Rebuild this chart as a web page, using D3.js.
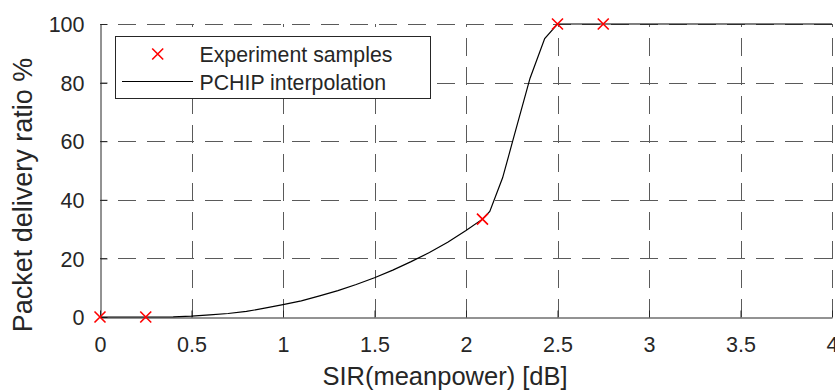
<!DOCTYPE html>
<html>
<head>
<meta charset="utf-8">
<script src="https://cdn.jsdelivr.net/npm/d3@7"></script>
<style>
  body { margin: 0; background: #fff; }
  text { font-family: "Liberation Sans", Arial, Helvetica, sans-serif; fill: #262626; }
</style>
</head>
<body>
<svg width="835" height="390"></svg>
<script>
// measured samples
var sampleX = [0, 0.25, 2.09, 2.5, 2.75];
var sampleY = [0, 0, 33.4, 100, 100];

// interpolated curve
var curveX = [0, 0.25, 0.3, 0.4, 0.5, 0.6, 0.7, 0.8, 0.9, 1.0, 1.1, 1.2, 1.3, 1.4, 1.5,
              1.6, 1.7, 1.8, 1.9, 2.0, 2.09, 2.13, 2.2, 2.255, 2.35, 2.43, 2.5, 4];
var curveY = [0, 0, 0, 0.05, 0.3, 0.7, 1.2, 1.9, 3.0, 4.2, 5.5, 7.2, 9.0, 11.1, 13.4,
              16.0, 18.9, 22.0, 25.5, 29.5, 33.4, 36.0, 47.5, 60, 81.5, 95, 100, 100];

var xTicks = [0, 0.5, 1, 1.5, 2, 2.5, 3, 3.5, 4];
var yTicks = [0, 20, 40, 60, 80, 100];

var legendLabels = ["Experiment samples", "PCHIP interpolation"];

var svg = d3.select("svg");
var pLeft = 100, pRight = 832, pTop = 24, pBottom = 317;
var axisColor = "#262626";

var x = d3.scaleLinear().domain([0, 4]).range([pLeft, pRight]);
var y = d3.scaleLinear().domain([0, 100]).range([pBottom, pTop]);

// grid
var grid = svg.append("g").attr("class", "grid")
    .attr("stroke", "#5a5a5a").attr("stroke-width", 1)
    .attr("stroke-dasharray", "18,11").attr("fill", "none");

xTicks.forEach(function(t) {
    if (t === 0) return;
    var px = Math.round(x(t)) + 0.5;
    grid.append("path").attr("d", "M" + px + "," + pBottom + "V" + pTop);
});
yTicks.forEach(function(t) {
    if (t === 0) return;
    var py = Math.round(y(t)) + 0.5;
    grid.append("path").attr("d", "M" + pRight + "," + py + "H" + pLeft);
});

// axes (MATLAB style, ticks inside)
var xAxis = d3.axisBottom(x).tickValues(xTicks).tickSizeInner(-7).tickSizeOuter(0)
    .tickPadding(20).tickFormat(d3.format("~g"));
var yAxis = d3.axisLeft(y).tickValues(yTicks).tickSizeInner(-7).tickSizeOuter(0)
    .tickPadding(16).tickFormat(d3.format("~g"));

var gx = svg.append("g").attr("transform", "translate(0," + (pBottom + 0.5) + ")").call(xAxis);
var gy = svg.append("g").attr("transform", "translate(" + (pLeft + 0.5) + ",0)").call(yAxis);

[gx, gy].forEach(function(g) {
    g.select(".domain").attr("stroke", axisColor);
    g.selectAll(".tick line").attr("stroke", axisColor);
    g.selectAll(".tick text").attr("fill", axisColor)
        .style("font-size", "21.5px").attr("font-family", null);
});
gx.selectAll(".tick text").attr("dy", null).attr("y", 34.5);
gy.selectAll(".tick text").attr("dy", "0.36em");

// curve
var line = d3.line()
    .x(function(d) { return x(d[0]); })
    .y(function(d) { return y(d[1]); });
var curve = curveX.map(function(v, i) { return [v, curveY[i]]; });
svg.append("path").datum(curve)
    .attr("d", line)
    .attr("fill", "none")
    .attr("stroke", "#000")
    .attr("stroke-width", 1.2);

// markers
function cross(g, cx, cy, r) {
    g.append("path")
        .attr("d", "M" + (cx - r) + "," + (cy - r) + "L" + (cx + r) + "," + (cy + r) +
                   "M" + (cx - r) + "," + (cy + r) + "L" + (cx + r) + "," + (cy - r))
        .attr("stroke", "#ff0000").attr("stroke-width", 1.6).attr("fill", "none");
}
var marks = svg.append("g");
sampleX.forEach(function(v, i) { cross(marks, x(v), y(sampleY[i]), 5.5); });

// legend
var lg = svg.append("g");
lg.append("rect").attr("x", 115.5).attr("y", 36.5).attr("width", 315).attr("height", 62)
    .attr("fill", "#fff").attr("stroke", axisColor).attr("stroke-width", 1);
cross(lg, 157.7, 54, 5.5);
lg.append("line").attr("x1", 122).attr("x2", 193).attr("y1", 81.5).attr("y2", 81.5)
    .attr("stroke", "#000").attr("stroke-width", 1.2);
lg.selectAll("text.leg").data(legendLabels).enter().append("text")
    .attr("class", "leg")
    .attr("x", 199.5)
    .attr("y", function(d, i) { return 62 + i * 27.5; })
    .style("font-size", "21.3px")
    .text(function(d) { return d; });

// axis labels
svg.append("text").attr("x", 445).attr("y", 385).attr("text-anchor", "middle")
    .style("font-size", "25.5px").text("SIR(meanpower) [dB]");
svg.append("text").attr("transform", "translate(32,195) rotate(-90)")
    .attr("text-anchor", "middle")
    .style("font-size", "27px").text("Packet delivery ratio %");
</script>
</body>
</html>
